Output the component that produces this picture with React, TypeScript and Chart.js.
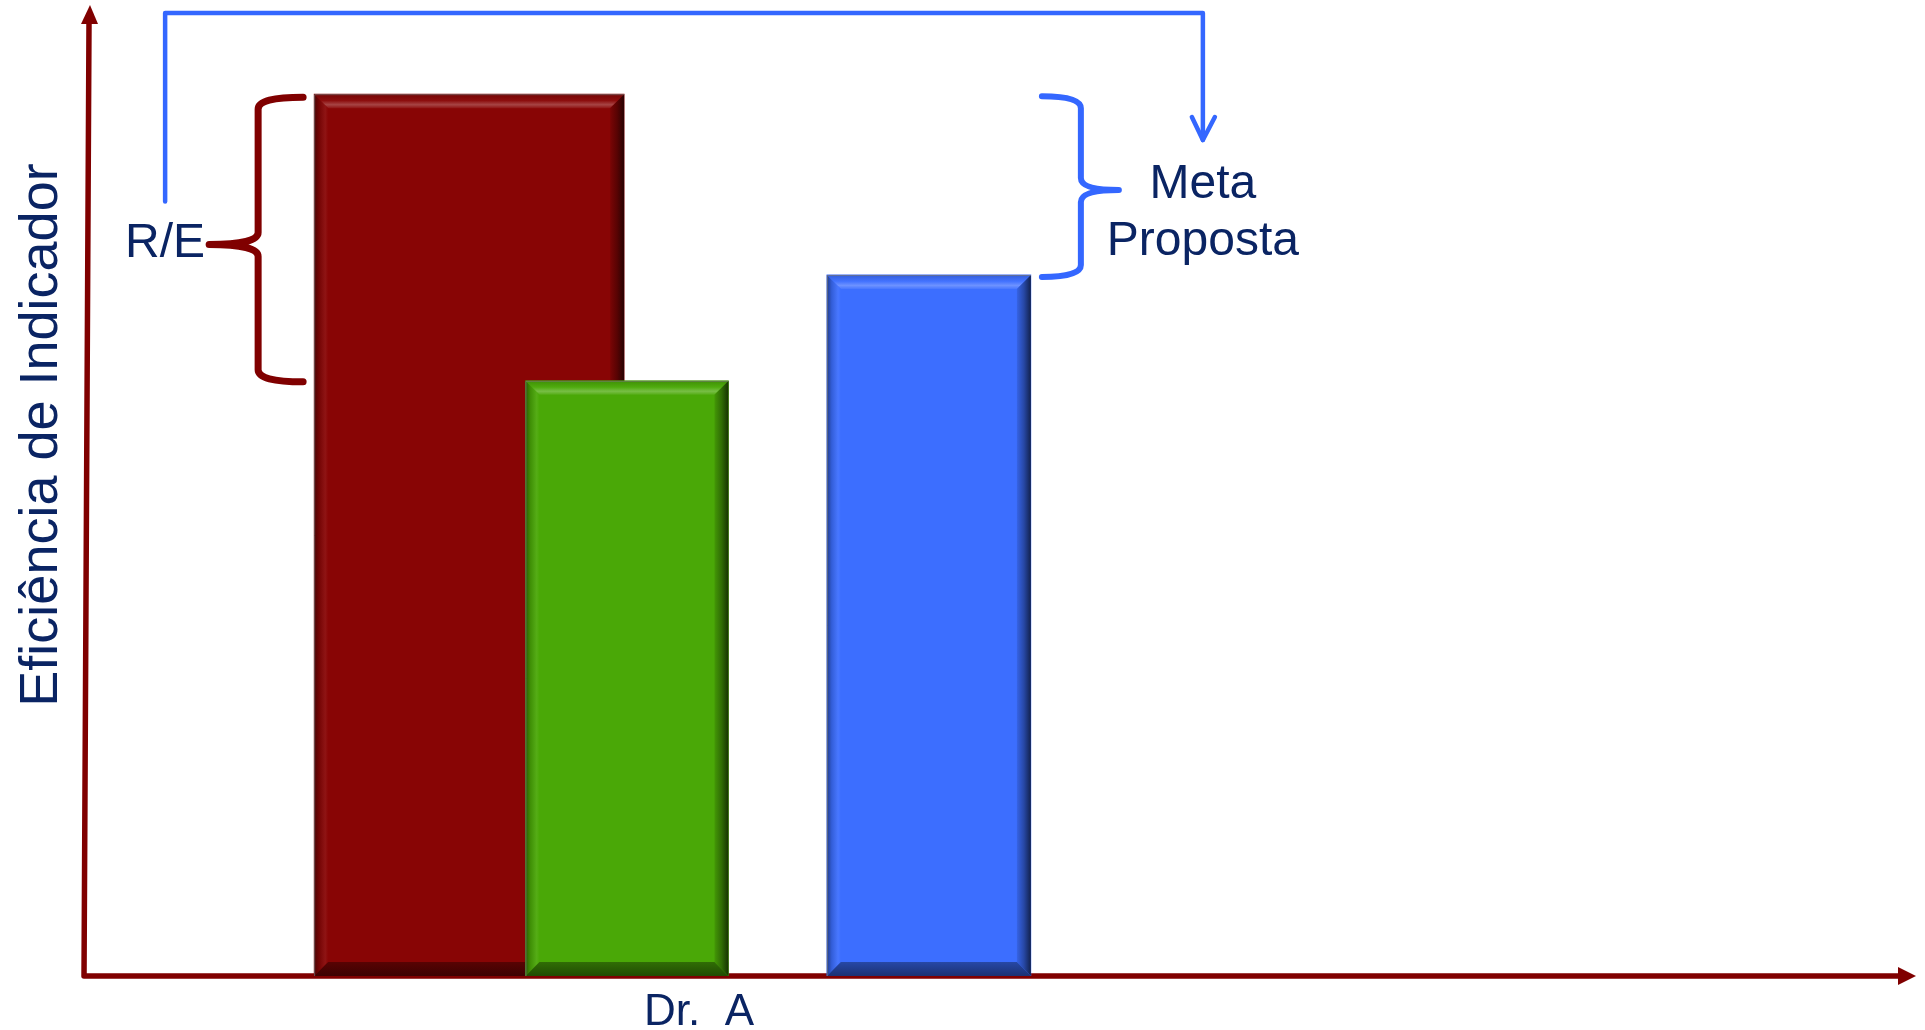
import React, { useEffect, useRef } from "react";
import { Chart, registerables } from "chart.js";

Chart.register(...registerables);

// ---------------- data ----------------
const categories = ["Dr.  A"];
const seriesLabels = ["R", "E", "Meta Proposta"];
const seriesValues = [100, 67.5, 79.5];
const yAxisTitle = "Eficiência de Indicador";
const leftBraceLabel = "R/E";
const rightBraceLabel = ["Meta", "Proposta"];

// ---------------- styles / layout ----------------
const FONT = '"Liberation Sans", Arial, Helvetica, sans-serif';
const TEXT = "#0a2463";
const AXIS_RED = "#800000";
const ANNOT_BLUE = "#3467ff";
const seriesColors = ["#880505", "#4aa807", "#3c6eff"];
const barThickness = [310, 203, 204];
const seriesOffsets = [-1.5, -0.47, 1.5];
const drawOrder = [2, 0, 1];
const CATEGORY_X = 4;

function mixTo(hex: string, target: number, t: number) {
  const n = parseInt(hex.slice(1), 16);
  const r = (n >> 16) & 255, g = (n >> 8) & 255, b = n & 255;
  const f = (c: number) => Math.round(c + (target - c) * t);
  return `rgb(${f(r)},${f(g)},${f(b)})`;
}
const tone = (hex: string, a: number) => (a >= 0 ? mixTo(hex, 255, a) : mixTo(hex, 0, -a));

function poly(ctx: CanvasRenderingContext2D, pts: number[][], fill: any) {
  ctx.beginPath();
  ctx.moveTo(pts[0][0], pts[0][1]);
  for (let i = 1; i < pts.length; i++) ctx.lineTo(pts[i][0], pts[i][1]);
  ctx.closePath();
  ctx.fillStyle = fill;
  ctx.fill();
}

function drawBevel(ctx: CanvasRenderingContext2D, L: number, T: number, R: number, B: number, face: string) {
  const b = Math.min(14, (R - L) / 2, (B - T) / 2);
  let g = ctx.createLinearGradient(0, T, 0, T + b);
  g.addColorStop(0, tone(face, -0.15));
  g.addColorStop(0.45, tone(face, 0.03));
  g.addColorStop(0.75, tone(face, 0.25));
  g.addColorStop(1, tone(face, 0.06));
  poly(ctx, [[L, T], [R, T], [R - b, T + b], [L + b, T + b]], g);

  g = ctx.createLinearGradient(L, 0, L + b, 0);
  g.addColorStop(0, tone(face, -0.45));
  g.addColorStop(0.35, tone(face, -0.15));
  g.addColorStop(0.8, tone(face, 0.06));
  g.addColorStop(1, tone(face, 0));
  poly(ctx, [[L, T], [L + b, T + b], [L + b, B - b], [L, B]], g);

  g = ctx.createLinearGradient(R - b, 0, R, 0);
  g.addColorStop(0, tone(face, -0.1));
  g.addColorStop(0.5, tone(face, -0.35));
  g.addColorStop(1, tone(face, -0.7));
  poly(ctx, [[R, T], [R, B], [R - b, B - b], [R - b, T + b]], g);

  g = ctx.createLinearGradient(0, B - b, 0, B);
  g.addColorStop(0, tone(face, -0.35));
  g.addColorStop(1, tone(face, -0.55));
  poly(ctx, [[L, B], [R, B], [R - b, B - b], [L + b, B - b]], g);

  ctx.save();
  ctx.strokeStyle = "rgba(120,120,120,0.7)";
  ctx.lineWidth = 1;
  ctx.beginPath();
  ctx.moveTo(L + 0.5, B);
  ctx.lineTo(L + 0.5, T + 0.5);
  ctx.lineTo(R, T + 0.5);
  ctx.stroke();
  ctx.restore();
}

function drawBrace(ctx: CanvasRenderingContext2D, tipX: number, spineX: number, pointX: number,
  yTop: number, yBot: number, yMid: number, r: number) {
  ctx.beginPath();
  ctx.moveTo(tipX, yTop);
  ctx.quadraticCurveTo(spineX, yTop, spineX, yTop + r);
  ctx.lineTo(spineX, yMid - r);
  ctx.quadraticCurveTo(spineX, yMid, pointX, yMid);
  ctx.quadraticCurveTo(spineX, yMid, spineX, yMid + r);
  ctx.lineTo(spineX, yBot - r);
  ctx.quadraticCurveTo(spineX, yBot, tipX, yBot);
  ctx.stroke();
}

const bevelPlugin = {
  id: "bevel",
  afterDatasetDraw(chart: any, args: any) {
    const ctx = chart.ctx;
    const face = chart.data.datasets[args.index].backgroundColor as string;
    for (const el of args.meta.data) {
      const p = el.getProps(["x", "y", "base", "width"], true);
      const L = p.x - p.width / 2, R = p.x + p.width / 2;
      const T = Math.min(p.y, p.base), B = Math.max(p.y, p.base);
      drawBevel(ctx, L, T, R, B, face);
    }
  },
};

const axesPlugin = {
  id: "arrowAxes",
  beforeDatasetsDraw(chart: any) {
    const ctx = chart.ctx;
    const { left, top, bottom, right } = chart.chartArea;
    ctx.save();
    ctx.strokeStyle = AXIS_RED;
    ctx.fillStyle = AXIS_RED;
    ctx.lineWidth = 5.5;
    ctx.lineJoin = "round";
    ctx.beginPath();
    ctx.moveTo(left + 3, top + 17);
    ctx.lineTo(left - 2, bottom);
    ctx.lineTo(right - 26, bottom);
    ctx.stroke();
    poly(ctx, [[left + 4, top - 1], [left + 12, top + 18], [left - 5, top + 18]], AXIS_RED);
    poly(ctx, [[right - 9, bottom], [right - 27, bottom - 9], [right - 27, bottom + 9]], AXIS_RED);
    ctx.restore();
  },
};

const annotationPlugin = {
  id: "annotations",
  afterDraw(chart: any) {
    const ctx = chart.ctx;
    const { left, top } = chart.chartArea;
    const els = [0, 1, 2].map((i) =>
      chart.getDatasetMeta(i).data[0].getProps(["x", "y", "base", "width"], true)
    );
    const [red, green, blue] = els;
    const redL = red.x - red.width / 2;
    const blueR = blue.x + blue.width / 2;

    ctx.save();
    ctx.lineCap = "round";
    ctx.lineJoin = "round";

    // left brace (R/E)
    ctx.strokeStyle = AXIS_RED;
    ctx.lineWidth = 7;
    const rTop = red.y + 3, rBot = green.y + 1;
    const rMid = (rTop + rBot) / 2 + 5;
    drawBrace(ctx, redL - 11, redL - 56, redL - 105, rTop, rBot, rMid, 12);

    // right brace (Meta Proposta)
    ctx.strokeStyle = ANNOT_BLUE;
    ctx.lineWidth = 6;
    const bTop = red.y + 2, bBot = blue.y + 2;
    const bMid = (bTop + bBot) / 2 + 3.5;
    drawBrace(ctx, blueR + 11, blueR + 50, blueR + 88, bTop, bBot, bMid, 12);

    // connector arrow
    const lineX = redL - 149;
    const arrowX = blueR + 172;
    const lineTop = top + 7;
    const tipY = bMid - 50;
    ctx.lineWidth = 4.5;
    ctx.beginPath();
    ctx.moveTo(lineX, rMid - 43);
    ctx.lineTo(lineX, lineTop);
    ctx.lineTo(arrowX, lineTop);
    ctx.lineTo(arrowX, tipY);
    ctx.stroke();
    ctx.beginPath();
    ctx.moveTo(arrowX - 11, tipY - 23);
    ctx.lineTo(arrowX, tipY);
    ctx.lineTo(arrowX + 12, tipY - 23);
    ctx.stroke();

    // texts
    ctx.fillStyle = TEXT;
    ctx.font = `48px ${FONT}`;
    ctx.textAlign = "center";
    ctx.textBaseline = "alphabetic";
    ctx.fillText(leftBraceLabel, lineX, rMid + 13);
    ctx.fillText(rightBraceLabel[0], arrowX, bMid + 8);
    ctx.fillText(rightBraceLabel[1], arrowX, bMid + 65);

    // y axis title
    ctx.save();
    ctx.translate(left - 29, top + 429);
    ctx.rotate(-Math.PI / 2);
    ctx.font = `54px ${FONT}`;
    ctx.fillText(yAxisTitle, 0, 0);
    ctx.restore();

    ctx.restore();
  },
};

export default function App() {
  const ref = useRef<HTMLCanvasElement>(null);
  useEffect(() => {
    const canvas = ref.current!;
    const chart = new Chart(canvas, {
      type: "bar",
      data: {
        datasets: seriesValues.map((v, i) => ({
          label: seriesLabels[i],
          data: [{ x: CATEGORY_X + seriesOffsets[i], y: v }],
          backgroundColor: seriesColors[i],
          borderWidth: 0,
          barThickness: barThickness[i],
          stack: "shared",
          order: drawOrder[i],
        })),
      } as any,
      options: {
        responsive: false,
        animation: false,
        devicePixelRatio: 1,
        layout: { padding: { left: 86, right: 0, top: 6, bottom: 0 } },
        plugins: {
          legend: { display: false },
          tooltip: { enabled: false },
        },
        scales: {
          x: {
            type: "linear",
            min: 0,
            max: 12,
            offset: false,
            grid: { display: false, drawTicks: false },
            border: { display: false },
            afterBuildTicks: (s: any) => {
              s.ticks = categories.map((_, i) => ({ value: CATEGORY_X + i * 12 }));
            },
            afterFit: (s: any) => {
              s.height = 54;
            },
            ticks: {
              autoSkip: false,
              maxRotation: 0,
              padding: 10,
              color: TEXT,
              font: { family: FONT, size: 44 },
              callback: (_v: any, i: number) => categories[i],
            },
          },
          y: { type: "linear", min: 0, max: 110, stacked: false, display: false },
        },
      } as any,
      plugins: [axesPlugin, bevelPlugin, annotationPlugin],
    });
    return () => chart.destroy();
  }, []);
  return (
    <div style={{ position: "fixed", left: 0, top: 0, width: 1925, height: 1030, background: "#ffffff" }}>
      <canvas ref={ref} width={1925} height={1030} style={{ display: "block" }} />
    </div>
  );
}
